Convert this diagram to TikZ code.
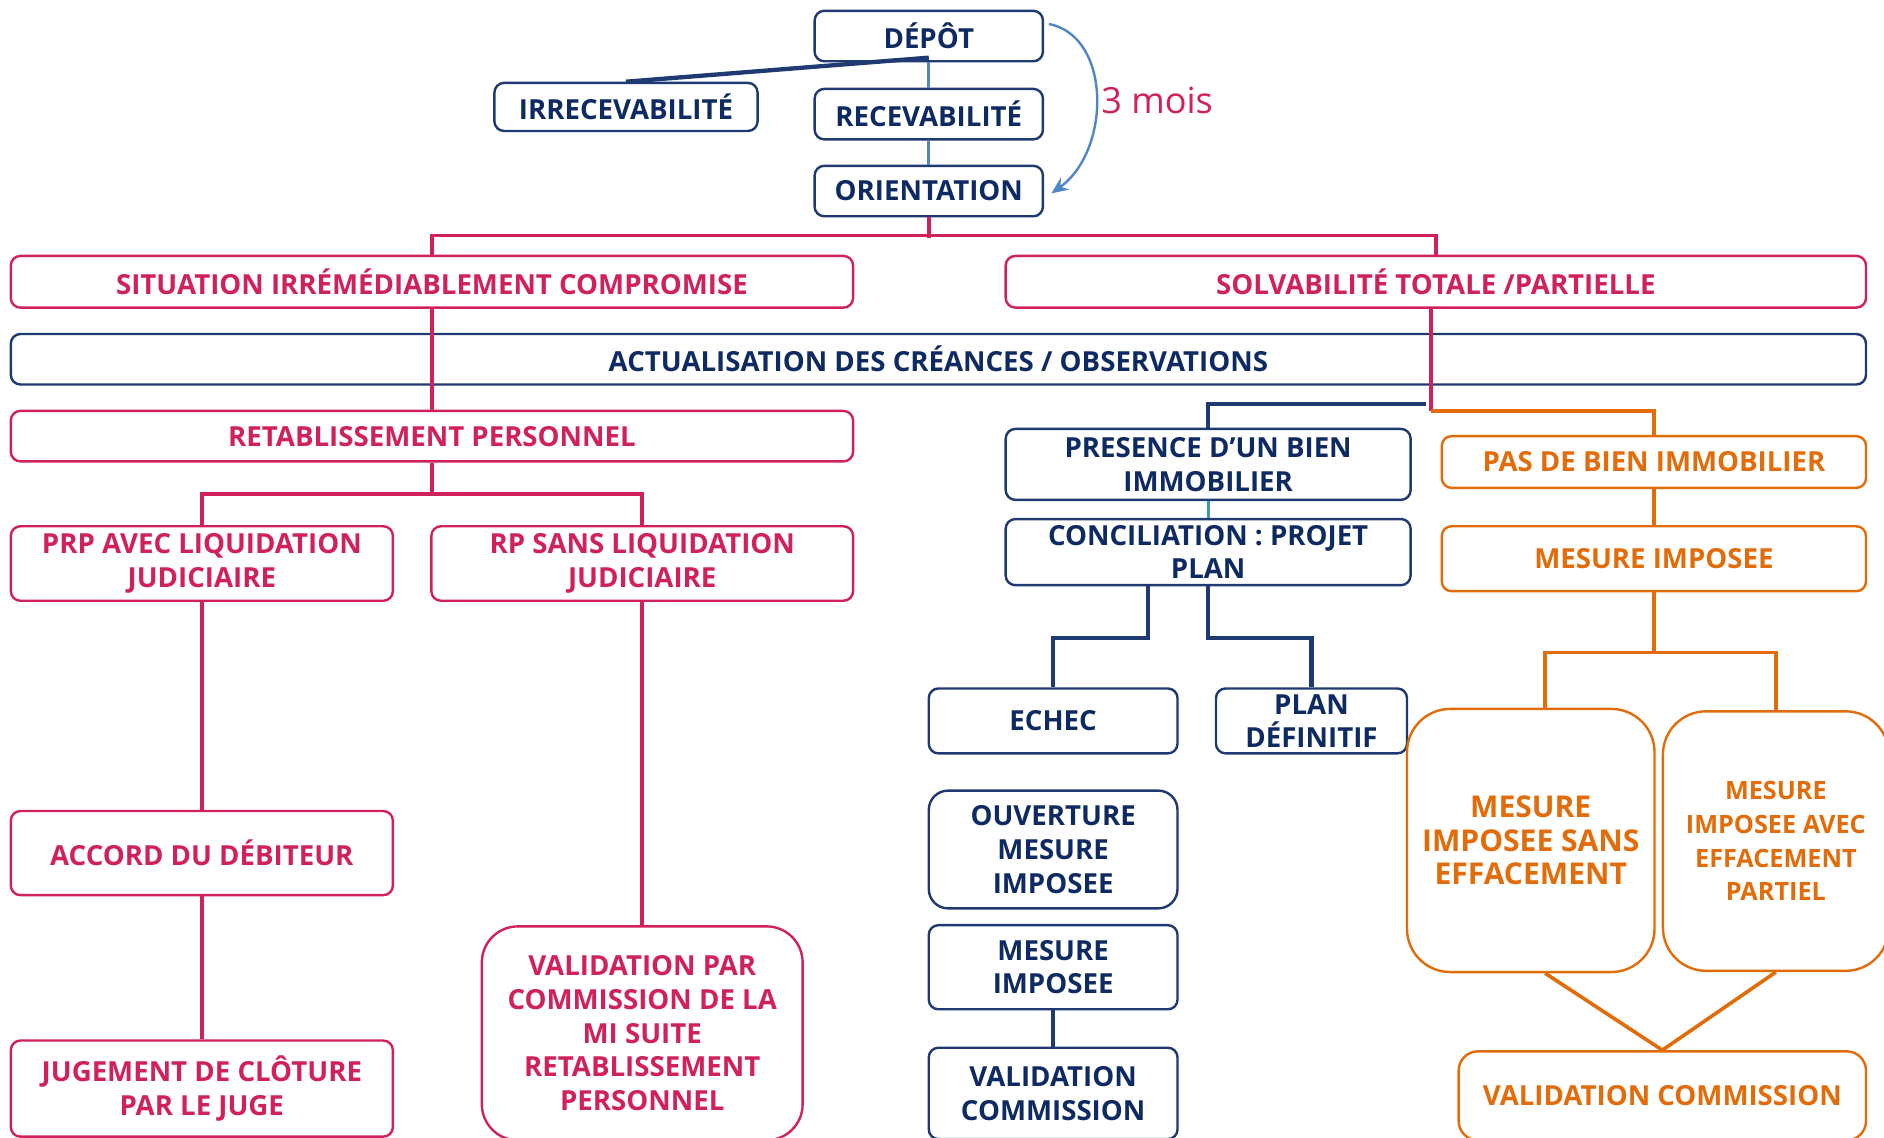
\documentclass[tikz,border=0pt]{standalone}
\usepackage{fontspec}
\setmainfont{Open Sans}
\usepackage{tikz}
\usetikzlibrary{arrows.meta}
\definecolor{navy}{HTML}{1F3A70}
\definecolor{navytext}{HTML}{0E2A62}
\definecolor{rose}{HTML}{D0215E}
\definecolor{orangeb}{HTML}{E36C0A}
\definecolor{lightblue}{HTML}{4F86C6}
\definecolor{tealb}{HTML}{3A9BA5}

\begin{document}
\begin{tikzpicture}[x=0.5pt,y=-0.5pt]
	\tikzset{box/.style={draw,fill=white,rounded corners=4pt,line width=1pt,align=center,inner sep=0pt,font=\bfseries\fontsize{11.5}{14}\selectfont}}
	\tikzset{boxsize/.style 2 args={minimum width=#1*0.5pt,minimum height=#2*0.5pt}}
	\tikzset{navybox/.style={box,draw=navy,text=navytext}}
	\tikzset{rosebox/.style={box,draw=rose,text=rose}}
	\tikzset{orangebox/.style={box,draw=orangeb,text=orangeb}}
	\tikzset{navyline/.style={draw=navy,line width=1.8pt}}
	\tikzset{roseline/.style={draw=rose,line width=1.5pt}}
	\tikzset{orangeline/.style={draw=orangeb,line width=1.5pt}}
	\tikzset{blueline/.style={draw=lightblue,line width=1.3pt}}
	%\tikzset{every node/.style={draw=red}}
	\useasboundingbox (0,0) rectangle (1568,947);
	% top
	\node[navybox,boxsize={190}{42}] (depot) at (773,30) {DÉPÔT};
	\node[navybox,boxsize={219}{40}] (irrec) at (521,89) {IRRECEVABILITÉ};
	\node[navybox,boxsize={190}{42}] (recev) at (773,95) {RECEVABILITÉ};
	\node[navybox,boxsize={190}{42}] (orient) at (773,159) {ORIENTATION};
	\node[text=rose,font=\fontsize{15}{18}\selectfont] (mois) at (963,84) {3 mois};
	\draw[navyline] ([yshift=2pt]depot.south) -- (irrec.north);
	\draw[blueline] (depot.south) -- (recev.north);
	\draw[blueline] (recev.south) -- (orient.north);
	\draw[lightblue,line width=1pt,-{Stealth[length=7pt,width=6pt]}] ([xshift=2pt,yshift=5pt]depot.east) .. controls (925,30) and (925,125) .. ([xshift=3pt,yshift=-1pt]orient.east);
	% two situations
	\node[rosebox,boxsize={701}{43}] (situation) at (359.5,234.5) {SITUATION IRRÉMÉDIABLEMENT COMPROMISE};
	\node[rosebox,boxsize={716}{43}] (solva) at (1195,234.5) {SOLVABILITÉ TOTALE /PARTIELLE};
	\node[navybox,boxsize={1544}{42}] (actual) at (781,299) {ACTUALISATION DES CRÉANCES / OBSERVATIONS};
	\draw[roseline] (orient.south) -- ++(0,17);
	\draw[roseline] (situation.north) -- ++(0,-16) -| (solva.north);
	% left branch
	\node[rosebox,boxsize={701}{42}] (retab) at (359.5,363) {RETABLISSEMENT PERSONNEL};
	\node[rosebox,boxsize={318}{62}] (prp) at (168,469) {PRP AVEC LIQUIDATION\\JUDICIAIRE};
	\node[rosebox,boxsize={351}{62}] (rp) at (534.5,469) {RP SANS LIQUIDATION\\JUDICIAIRE};
	\node[rosebox,boxsize={318}{70}] (accord) at (168,710) {ACCORD DU DÉBITEUR};
	\node[rosebox,boxsize={318}{80}] (jugement) at (168,906) {JUGEMENT DE CLÔTURE\\PAR LE JUGE};
	\node[rosebox,rounded corners=15pt,boxsize={267}{178}] (valpar) at (534.5,860) {VALIDATION PAR\\COMMISSION DE LA\\MI SUITE\\RETABLISSEMENT\\PERSONNEL};
	\draw[roseline] (situation.south) -- (retab.north);
	\draw[roseline] (retab.south) -- ++(0,26) coordinate (rfork);
	\draw[roseline] (prp.north) |- (rfork) -| (rp.north);
	\draw[roseline] (prp.south) -- (accord.north);
	\draw[roseline] (accord.south) -- (jugement.north);
	\draw[roseline] (rp.south) -- (valpar.north);
	% right branch
	\coordinate (navyfork) at (1191,336);
	\coordinate (orangefork) at (1191,342);
	\draw[roseline] ([xshift=-2pt]solva.south) -- (orangefork);
	\node[navybox,boxsize={337}{59}] (presence) at (1005.5,386.5) {PRESENCE D’UN BIEN\\IMMOBILIER};
	\node[navybox,boxsize={337}{55}] (concil) at (1005.5,459.5) {CONCILIATION : PROJET\\PLAN};
	\node[navybox,boxsize={207}{54}] (echec) at (876.5,600) {ECHEC};
	\node[navybox,boxsize={159}{54}] (plandef) at (1091.5,600) {PLAN\\DÉFINITIF};
	\node[navybox,rounded corners=8pt,boxsize={207}{98}] (ouvert) at (876.5,707) {OUVERTURE\\MESURE\\IMPOSEE};
	\node[navybox,boxsize={207}{70}] (mesnavy) at (876.5,805) {MESURE\\IMPOSEE};
	\node[navybox,boxsize={207}{76}] (valnavy) at (876.5,910) {VALIDATION\\COMMISSION};
	\draw[navyline] (presence.north) |- ([xshift=-2pt]navyfork);
	\draw[tealb,line width=1.3pt] (presence.south) -- (concil.north);
	\draw[navyline] ([xshift=-25pt]concil.south) -- ++(0,43) -| (echec.north);
	\draw[navyline] (concil.south) -- ++(0,43) -| (plandef.north);
	\draw[navyline] (mesnavy.south) -- (valnavy.north);
	\node[orangebox,boxsize={353}{43}] (pas) at (1376.5,384.5) {PAS DE BIEN IMMOBILIER};
	\node[orangebox,boxsize={353}{54}] (mesor) at (1376.5,465) {MESURE IMPOSEE};
	\node[orangebox,rounded corners=18pt,boxsize={206}{219},font=\bfseries\fontsize{12.5}{14}\selectfont] (sans) at (1274,699.5) {MESURE\\IMPOSEE SANS\\EFFACEMENT};
	\node[orangebox,rounded corners=18pt,boxsize={188}{216},font=\bfseries\fontsize{10.5}{14}\selectfont] (avec) at (1478,700) {MESURE\\IMPOSEE AVEC\\EFFACEMENT\\PARTIEL};
	\node[orangebox,rounded corners=8pt,boxsize={339}{74}] (valor) at (1383.5,912) {VALIDATION COMMISSION};
	\draw[orangeline] (orangefork) -| (pas.north);
	\draw[orangeline] (pas.south) -- (mesor.north);
	\draw[orangeline] (mesor.south) -- ++(0,50) coordinate (ofork);
	\draw[orangeline] ([xshift=6pt]sans.north) |- (ofork) -| (avec.north);
	\draw[orangeline] ([xshift=6pt]sans.south) -- (valor.north);
	\draw[orangeline] (avec.south) -- (valor.north);
\end{tikzpicture}
\end{document}
